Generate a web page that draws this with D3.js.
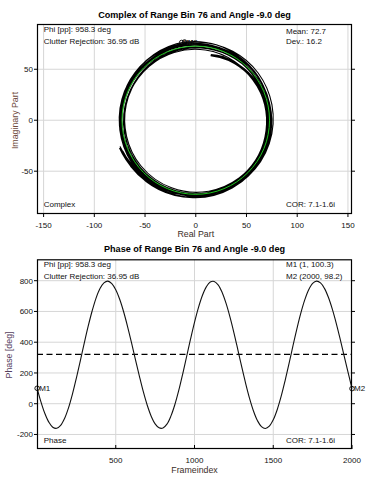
<!DOCTYPE html>
<html><head><meta charset="utf-8">
<script src="https://cdn.jsdelivr.net/npm/d3@7"></script>
<style>
html,body{margin:0;padding:0;background:#fff;}
svg{display:block;font-family:"Liberation Sans",Arial,sans-serif;}
</style></head>
<body><svg id="c" width="379" height="482"></svg>
<script>
// ---- data ----
const frames = [1,25,50,75,100,125,150,175,200,225,250,275,300,325,350,375,400,425,450,475,
  500,525,550,575,600,625,650,675,700,725,750,775,800,825,850,875,900,925,950,975,
  1000,1025,1050,1075,1100,1125,1150,1175,1200,1225,1250,1275,1300,1325,1350,1375,1400,1425,1450,1475,
  1500,1525,1550,1575,1600,1625,1650,1675,1700,1725,1750,1775,1800,1825,1850,1875,1900,1925,1950,1975,2000];
const phaseDeg = [100.3,12,-64,-120,-153,-160,-141,-96,-27,63,167,279,394,504,603,687,749,786,797,781,
  741,679,598,502,397,287,180,78,-10,-81,-131,-157,-158,-133,-81,-7,86,193,307,421,
  529,625,704,760,791,795,773,725,654,565,463,352,239,131,33,-49,-111,-149,-161,-146,
  -105,-39,47,149,260,376,487,589,675,741,782,797,786,750,692,615,523,420,311,204,98.2];
const magnitude = [77.5,74,75,77,79,80,78,76,75,74,73,72,73,75,76,74,71,68,65,67,
  70,72,74,76,77,75,73,72,71,73,76,78,79,77,75,73,71,70,71,73,
  75,74,72,69,67,66,68,70,72,74,75,74,72,70,69,71,74,77,79,78,
  76,74,72,71,72,74,76,75,73,70,68,66,68,70,72,73,74,75,74,73,77.5];
const fitRadius = 72.7;
const phaseMean = 321;
const complexXTicks = [-150,-100,-50,0,50,100,150];
const complexYTicks = [-50,0,50];
const phaseXTicks = [500,1000,1500,2000];
const phaseYTicks = [-200,0,200,400,600,800];
const markers = [{name:"M1", idx:0},{name:"M2", idx:frames.length-1}];
const titles = ["Complex of Range Bin 76 and Angle -9.0 deg","Phase of Range Bin 76 and Angle -9.0 deg"];
const infoLeft = ["Phi [pp]: 958.3 deg","Clutter Rejection: 36.95 dB"];
const infoComplexRight = ["Mean: 72.7","Dev.: 16.2"];
const infoPhaseRight = ["M1 (1, 100.3)","M2 (2000, 98.2)"];
const corText = "COR: 7.1-1.6i";

// ---- drawing ----
const svg = d3.select("#c");
const GRID = "#d6d6d6", TXT = "#111";

function frame(g, L, R, T, B, xs, ys, xt, yt, gridX, gridY, bottomIn) {
  gridX.forEach(v => g.append("line").attr("x1", xs(v)).attr("x2", xs(v)).attr("y1", T).attr("y2", B)
    .attr("stroke", GRID).attr("stroke-width", 1));
  gridY.forEach(v => g.append("line").attr("x1", L).attr("x2", R).attr("y1", ys(v)).attr("y2", ys(v))
    .attr("stroke", GRID).attr("stroke-width", 1));
  yt.forEach(v => {
    g.append("line").attr("x1", L - 3).attr("x2", L).attr("y1", ys(v)).attr("y2", ys(v)).attr("stroke", "#000");
    g.append("line").attr("x1", R).attr("x2", R + 3).attr("y1", ys(v)).attr("y2", ys(v)).attr("stroke", "#000");
    g.append("text").attr("x", L - 4).attr("y", ys(v)).attr("dy", "0.35em").attr("text-anchor", "end")
      .attr("font-size", 8).attr("fill", TXT).text(v);
  });
  xt.forEach(v => {
    if (bottomIn) g.append("line").attr("x1", xs(v)).attr("x2", xs(v)).attr("y1", B - 4).attr("y2", B).attr("stroke", "#000");
    else g.append("line").attr("x1", xs(v)).attr("x2", xs(v)).attr("y1", B).attr("y2", B + 3).attr("stroke", "#000");
  });
}

// ---------- Top: complex plot ----------
{
  const L = 37, R = 352, T = 24, B = 214;
  const xs = d3.scaleLinear().domain([-156.5, 154]).range([L, R]);
  const ys = d3.scaleLinear().domain([-92, 94.4]).range([B, T]);
  const g = svg.append("g");
  frame(g, L, R, T, B, xs, ys, complexXTicks, complexYTicks, complexXTicks, complexYTicks, false);
  complexXTicks.forEach(v => g.append("text").attr("x", xs(v)).attr("y", 228).attr("text-anchor", "middle")
    .attr("font-size", 8).attr("fill", TXT).text(v));

  svg.append("clipPath").attr("id", "clipTop").append("rect")
    .attr("x", L).attr("y", T).attr("width", R - L).attr("height", B - T);
  const pg = g.append("g").attr("clip-path", "url(#clipTop)");

  const pts = phaseDeg.map((p, i) => {
    const a = p * Math.PI / 180, m = magnitude[i];
    return {x: xs(m * Math.cos(a)), y: ys(m * Math.sin(a)), m, p};
  });
  let d = `M${pts[0].x},${pts[0].y}`;
  for (let i = 1; i < pts.length; i++) {
    const mAvg = (pts[i - 1].m + pts[i].m) / 2;
    const rx = xs(mAvg) - xs(0), ry = ys(0) - ys(mAvg);
    const sweep = pts[i].p > pts[i - 1].p ? 0 : 1;
    d += ` A${rx},${ry} 0 0 ${sweep} ${pts[i].x},${pts[i].y}`;
  }
  pg.append("path").attr("d", d).attr("fill", "none").attr("stroke", "#000").attr("stroke-width", 1.1);
  pg.append("ellipse").attr("cx", xs(0)).attr("cy", ys(0))
    .attr("rx", xs(fitRadius) - xs(0)).attr("ry", ys(0) - ys(fitRadius))
    .attr("fill", "none").attr("stroke", "#1fc41f").attr("stroke-width", 1);

  markers.forEach(mk => {
    const p = pts[mk.idx];
    g.append("circle").attr("cx", p.x).attr("cy", p.y).attr("r", 2.3).attr("fill", "none").attr("stroke", "#000").attr("stroke-width", 0.9);
    g.append("text").attr("x", p.x + 2).attr("y", p.y).attr("dy", "0.35em").attr("font-size", 8).attr("fill", TXT).text(mk.name);
  });

  g.append("rect").attr("x", L + 0.5).attr("y", T + 0.5).attr("width", R - L - 1).attr("height", B - T - 1)
    .attr("fill", "none").attr("stroke", "#000").attr("stroke-width", 1.2);

  svg.append("text").attr("x", (L + R) / 2).attr("y", 17.7).attr("text-anchor", "middle")
    .attr("font-size", 9.1).attr("font-weight", "bold").attr("fill", "#000").text(titles[0]);
  svg.append("text").attr("x", xs(0)).attr("y", 237).attr("text-anchor", "middle")
    .attr("font-size", 8.8).attr("fill", "#3b2e28").text("Real Part");
  svg.append("text").attr("transform", `translate(17.5,120.5) rotate(-90)`).attr("text-anchor", "middle")
    .attr("font-size", 8.8).attr("fill", "#6e4a3c").text("Imaginary Part");

  infoLeft.forEach((t, i) => g.append("text").attr("x", 43.7).attr("y", [31.7, 44][i]).attr("font-size", 8).attr("fill", TXT).text(t));
  infoComplexRight.forEach((t, i) => g.append("text").attr("x", 286).attr("y", [33.8, 44.3][i]).attr("font-size", 8).attr("fill", TXT).text(t));
  g.append("text").attr("x", 43.7).attr("y", 206.5).attr("font-size", 8).attr("fill", TXT).text("Complex");
  g.append("text").attr("x", 286).attr("y", 207).attr("font-size", 8).attr("fill", TXT).text(corText);
}

// ---------- Bottom: phase plot ----------
{
  const L = 37, R = 352, T = 259.3, B = 449;
  const xs = d3.scaleLinear().domain([0, 2000]).range([L, R]);
  const ys = d3.scaleLinear().domain([-294.6, 939.2]).range([B, T]);
  const g = svg.append("g");
  frame(g, L, R, T, B, xs, ys, phaseXTicks, phaseYTicks, [500, 1000, 1500], phaseYTicks, true);
  phaseXTicks.forEach(v => g.append("text").attr("x", xs(v)).attr("y", 463).attr("text-anchor", "middle")
    .attr("font-size", 8).attr("fill", TXT).text(v));

  g.append("line").attr("x1", L).attr("x2", R).attr("y1", ys(phaseMean)).attr("y2", ys(phaseMean))
    .attr("stroke", "#000").attr("stroke-width", 1.2).attr("stroke-dasharray", "6,3.5");

  const line = d3.line().x((d, i) => xs(frames[i])).y(d => ys(d)).curve(d3.curveCatmullRom.alpha(0.5));
  g.append("path").attr("d", line(phaseDeg)).attr("fill", "none").attr("stroke", "#111").attr("stroke-width", 1.1);

  markers.forEach(mk => {
    const px = xs(frames[mk.idx]), py = ys(phaseDeg[mk.idx]);
    g.append("circle").attr("cx", px).attr("cy", py).attr("r", 2.3).attr("fill", "none").attr("stroke", "#000").attr("stroke-width", 0.9);
    g.append("text").attr("x", px + 2).attr("y", py).attr("dy", "0.35em").attr("font-size", 8).attr("fill", TXT).text(mk.name);
  });

  g.append("rect").attr("x", L + 0.5).attr("y", T + 0.5).attr("width", R - L - 1).attr("height", B - T - 1)
    .attr("fill", "none").attr("stroke", "#000").attr("stroke-width", 1.2);

  svg.append("text").attr("x", (L + R) / 2).attr("y", 252.3).attr("text-anchor", "middle")
    .attr("font-size", 9.1).attr("font-weight", "bold").attr("fill", "#000").text(titles[1]);
  svg.append("text").attr("x", xs(1000)).attr("y", 473).attr("text-anchor", "middle")
    .attr("font-size", 8.8).attr("fill", "#3b2e28").text("Frameindex");
  svg.append("text").attr("transform", `translate(11.5,355) rotate(-90)`).attr("text-anchor", "middle")
    .attr("font-size", 8.8).attr("fill", "#56405e").text("Phase [deg]");

  infoLeft.forEach((t, i) => g.append("text").attr("x", 43.7).attr("y", [267, 278.5][i]).attr("font-size", 8).attr("fill", TXT).text(t));
  infoPhaseRight.forEach((t, i) => g.append("text").attr("x", 286).attr("y", [267, 278.5][i]).attr("font-size", 8).attr("fill", TXT).text(t));
  g.append("text").attr("x", 43.7).attr("y", 443).attr("font-size", 8).attr("fill", TXT).text("Phase");
  g.append("text").attr("x", 286).attr("y", 443).attr("font-size", 8).attr("fill", TXT).text(corText);
}
</script></body></html>
